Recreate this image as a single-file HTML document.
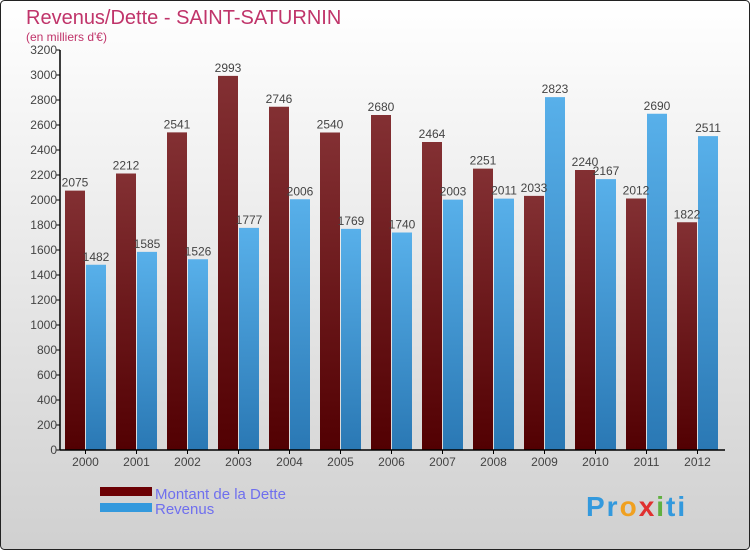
<!DOCTYPE html>
<html><head><meta charset="utf-8"><style>
body{margin:0}
svg{display:block;font-family:"Liberation Sans",sans-serif}
</style></head><body>
<svg id="c" width="750" height="550">
<defs>
<linearGradient id="bg" x1="0" y1="0" x2="0" y2="1"><stop offset="0" stop-color="#ffffff"/><stop offset="1" stop-color="#d0d0d0"/></linearGradient>
<linearGradient id="gd" x1="0" y1="0" x2="0" y2="1"><stop offset="0" stop-color="#833033"/><stop offset="1" stop-color="#520002"/></linearGradient>
<linearGradient id="gr" x1="0" y1="0" x2="0" y2="1"><stop offset="0" stop-color="#58b0ea"/><stop offset="1" stop-color="#2a78b4"/></linearGradient>
</defs>
<rect x="0.5" y="0.5" width="749" height="549" rx="4" fill="url(#bg)" stroke="#222"/>
<text x="26" y="24" font-size="20" fill="#c0346a" font-weight="normal">Revenus/Dette - SAINT-SATURNIN</text>
<text x="26" y="41" font-size="12" fill="#c0346a">(en milliers d'€)</text>
<g id="plot"></g>
<rect x="100" y="487" width="52" height="9" fill="#6b0004"/>
<rect x="100" y="503" width="52" height="9" fill="#3399dd"/>
<text x="155" y="499" font-size="15" fill="#6f6fee">Montant de la Dette</text>
<text x="155" y="514" font-size="15" fill="#6f6fee">Revenus</text>
<text x="586" y="516" font-size="28" font-weight="bold" letter-spacing="2"><tspan fill="#3399dd">Pr</tspan><tspan fill="#f0a020">o</tspan><tspan fill="#e03030">x</tspan><tspan fill="#60b040">i</tspan><tspan fill="#3399dd">ti</tspan></text>
</svg>
<script>
const years=["2000","2001","2002","2003","2004","2005","2006","2007","2008","2009","2010","2011","2012"];
const dette=[2075,2212,2541,2993,2746,2540,2680,2464,2251,2033,2240,2012,1822];
const revenus=[1482,1585,1526,1777,2006,1769,1740,2003,2011,2823,2167,2690,2511];
const ticks=[0,200,400,600,800,1000,1200,1400,1600,1800,2000,2200,2400,2600,2800,3000,3200];
const NS="http://www.w3.org/2000/svg";
const g=document.getElementById("plot");
const x0=60,y0=450,yTop=50,maxV=3200,step=51;
const y=v=>y0-(v/maxV)*(y0-yTop);
const xg=i=>x0+5+i*step;
function mk(t,a){const e=document.createElementNS(NS,t);for(const k in a)e.setAttribute(k,a[k]);g.appendChild(e);return e;}
ticks.forEach(t=>{
 const l=mk("line",{x1:x0-4,x2:x0,y1:y(t),y2:y(t),stroke:"#000"});
 
 
 const tx=mk("text",{x:x0-3,y:y(t)+4,"font-size":12,"text-anchor":"end",fill:"#444"});tx.textContent=t;
 
 
});
years.forEach((yr,i)=>{
 const xd=xg(i),xr=xd+21;
 const b1=mk("rect",{x:xd,y:y(dette[i]),width:20,height:y0-y(dette[i]),fill:"url(#gd)"});
 
 
 const b2=mk("rect",{x:xr,y:y(revenus[i]),width:20,height:y0-y(revenus[i]),fill:"url(#gr)"});
 
 
 const t1=mk("text",{x:xd+10,y:y(dette[i])-4,"font-size":12,"text-anchor":"middle",fill:"#444"});t1.textContent=dette[i];
 
 
 const t2=mk("text",{x:xr+10,y:y(revenus[i])-4,"font-size":12,"text-anchor":"middle",fill:"#444"});t2.textContent=revenus[i];
 
 
 const tk=mk("line",{x1:xd+20.5,x2:xd+20.5,y1:y0,y2:y0+4,stroke:"#000"});
 
 
 const xl=mk("text",{x:xd+20.5,y:y0+16,"font-size":12,"text-anchor":"middle",fill:"#444"});xl.textContent=yr;
 
 
});
const ya=mk("line",{x1:x0,x2:x0,y1:yTop,y2:y0,stroke:"#000","stroke-width":1.5});


const xa=mk("line",{x1:x0,x2:x0+13*step+2,y1:y0,y2:y0,stroke:"#000","stroke-width":1.5});


</script>
</body></html>
